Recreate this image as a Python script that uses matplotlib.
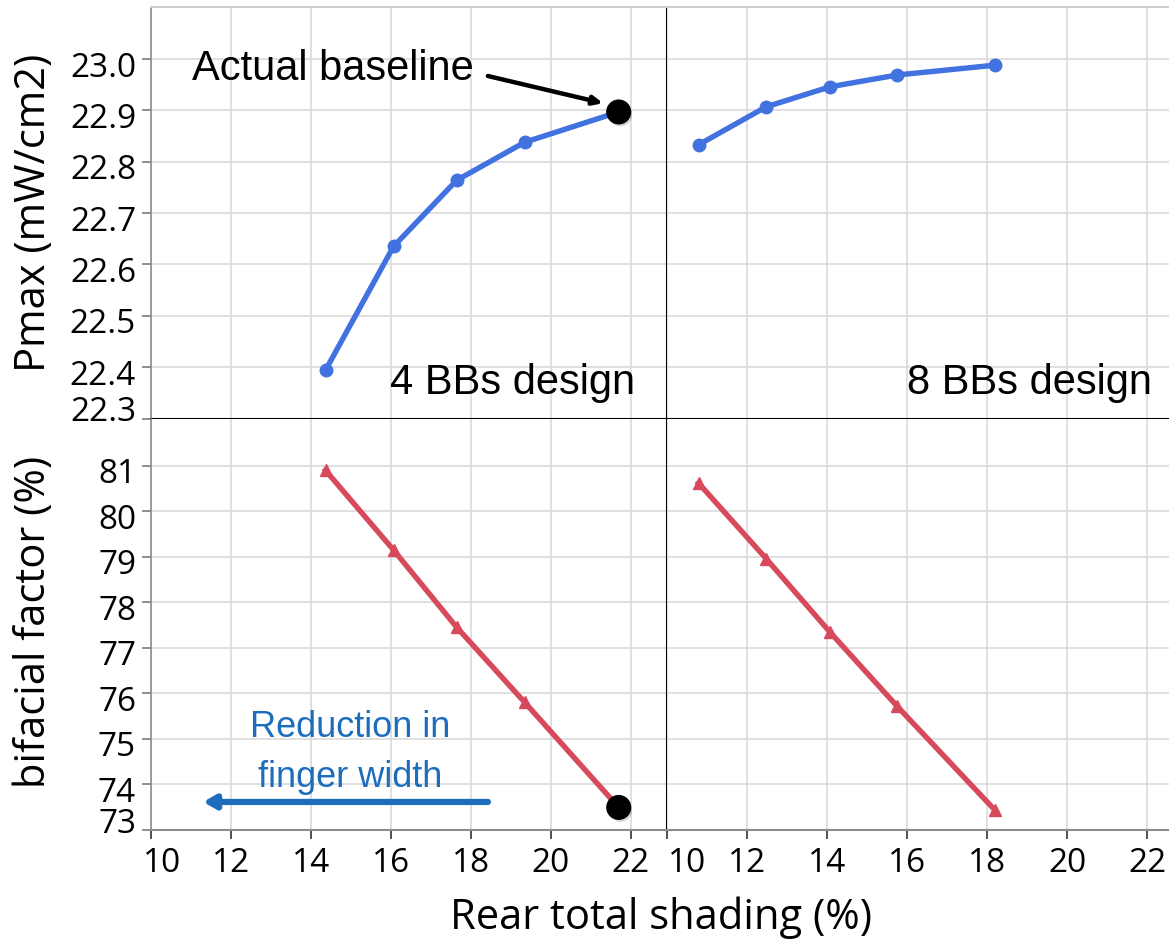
import matplotlib
matplotlib.use("Agg")
import matplotlib.pyplot as plt
import matplotlib.transforms as mtransforms
import matplotlib.patheffects as pe

# ---------------- data ----------------
x_4bb = [14.37, 16.07, 17.65, 19.35, 21.70]
pmax_4bb = [22.394, 22.635, 22.764, 22.838, 22.897]
bifacial_4bb = [80.90, 79.15, 77.45, 75.80, 73.49]

x_8bb = [10.78, 12.47, 14.07, 15.75, 18.18]
pmax_8bb = [22.833, 22.907, 22.946, 22.969, 22.988]
bifacial_8bb = [80.62, 78.96, 77.34, 75.71, 73.44]

x_ticks = [10, 12, 14, 16, 18, 20, 22]
pmax_ticks = [22.3, 22.4, 22.5, 22.6, 22.7, 22.8, 22.9, 23.0]
bif_ticks = [73, 74, 75, 76, 77, 78, 79, 80, 81]

panel_labels = ["4 BBs design", "8 BBs design"]
ylabel_top = "Pmax (mW/cm2)"
ylabel_bottom = "bifacial factor (%)"
xlabel = "Rear total shading (%)"

# ---------------- styling ----------------
W, H = 1169, 945
DPI = 100
fig = plt.figure(figsize=(W / DPI, H / DPI), dpi=DPI)
fig.patch.set_facecolor("white")

TICK_FONT = "Open Sans"
ANN_FONT = "Liberation Sans"
BLUE = "#4271e0"
RED = "#d64a5c"
GRID = "#dadada"
ARROW_BLUE = "#1d6dbd"


def px_axes(x0, y0, x1, y1):
    """pixel box (top-left origin) -> figure axes"""
    return fig.add_axes([x0 / W, (H - y1) / H, (x1 - x0) / W, (y1 - y0) / H])


xl0, xmid, xr1 = 150.7, 667.3, 1169.0
yt0, ymid, yb1 = 8.3, 419.5, 830.7

ax_tl = px_axes(xl0, yt0, xmid, ymid)
ax_tr = px_axes(xmid, yt0, xr1, ymid)
ax_bl = px_axes(xl0, ymid, xmid, yb1)
ax_br = px_axes(xmid, ymid, xr1, yb1)

xlim_left = (10, 10 + (xmid - xl0) / 40.0)
xlim_right = (10, 10 + (xr1 - xmid) / 40.0)
ylim_top = (22.3, 23.1008)
ylim_bot = (73.0, 82.04)

for ax, xlim, ylim, yt in [(ax_tl, xlim_left, ylim_top, pmax_ticks),
                           (ax_tr, xlim_right, ylim_top, pmax_ticks),
                           (ax_bl, xlim_left, ylim_bot, bif_ticks),
                           (ax_br, xlim_right, ylim_bot, bif_ticks)]:
    ax.set_xlim(*xlim)
    ax.set_ylim(*ylim)
    ax.set_xticks(x_ticks)
    ax.set_yticks(yt)
    ax.grid(True, color=GRID, linewidth=1.2, zorder=0)
    ax.set_axisbelow(True)
    ax.set_facecolor("white")
    for s in ax.spines.values():
        s.set_visible(False)
    ax.tick_params(axis="both", which="both", labelsize=24,
                   length=6.5, width=1.2, color="#7a7a7a")

# top panels: no x tick labels
for ax in (ax_tl, ax_tr):
    ax.tick_params(axis="x", bottom=False, labelbottom=False)
# right panels: no y ticks
for ax in (ax_tr, ax_br):
    ax.tick_params(axis="y", left=False, labelleft=False)

# y tick label formatting
ax_tl.set_yticklabels([f"{v:.1f}" for v in pmax_ticks], fontfamily=TICK_FONT)
ax_bl.set_yticklabels([str(v) for v in bif_ticks], fontfamily=TICK_FONT)
for ax in (ax_bl, ax_br):
    ax.set_xticklabels([str(v) for v in x_ticks], fontfamily=TICK_FONT)
    ax.tick_params(axis="x", pad=5, color="#303030")
for ax in (ax_tl, ax_bl):
    ax.tick_params(axis="y", pad=4)

# shift edge labels like the reference
def shift_label(lbl, dx=0, dy=0):
    lbl.set_transform(lbl.get_transform() +
                      mtransforms.ScaledTranslation(dx / 72, dy / 72, fig.dpi_scale_trans))

shift_label(ax_tl.get_yticklabels()[0], dy=8)
shift_label(ax_bl.get_yticklabels()[0], dy=7)
for lbl in ax_tl.get_yticklabels()[1:] + ax_bl.get_yticklabels()[1:]:
    shift_label(lbl, dy=-3)
shift_label(ax_bl.get_xticklabels()[0], dx=8)
shift_label(ax_br.get_xticklabels()[0], dx=14)

# spines
for ax in (ax_tl, ax_tr):
    ax.spines["top"].set_visible(True)
    ax.spines["top"].set_color("#cfcfcf")
    ax.spines["top"].set_linewidth(1.5)
for ax in (ax_tl, ax_bl):
    ax.spines["left"].set_visible(True)
    ax.spines["left"].set_color("#8c8c8c")
    ax.spines["left"].set_linewidth(1.2)
for ax in (ax_bl, ax_br):
    ax.spines["bottom"].set_visible(True)
    ax.spines["bottom"].set_color("#8c8c8c")
    ax.spines["bottom"].set_linewidth(1.5)
# dividers (black)
for ax, side in [(ax_tl, "bottom"), (ax_tr, "bottom"), (ax_tl, "right"), (ax_bl, "right")]:
    ax.spines[side].set_visible(True)
    ax.spines[side].set_color("black")
    ax.spines[side].set_linewidth(1.5)

# ---------------- data series ----------------
ax_tl.plot(x_4bb, pmax_4bb, color=BLUE, lw=3.9, marker="o", ms=9, zorder=3, clip_on=False)
ax_tr.plot(x_8bb, pmax_8bb, color=BLUE, lw=3.9, marker="o", ms=9, zorder=3, clip_on=False)
ax_bl.plot(x_4bb, bifacial_4bb, color=RED, lw=3.9, marker="^", ms=9, zorder=3, clip_on=False)
ax_br.plot(x_8bb, bifacial_8bb, color=RED, lw=3.9, marker="^", ms=9, zorder=3, clip_on=False)

# actual baseline markers (last point of 4BB design)
shadow = [pe.SimplePatchShadow(offset=(1.2, -1.8), alpha=0.18, shadow_rgbFace="black"), pe.Normal()]
ax_tl.plot([x_4bb[-1]], [pmax_4bb[-1]], marker="o", ms=17, color="black", ls="none",
           zorder=5, clip_on=False, path_effects=shadow)
ax_bl.plot([x_4bb[-1]], [bifacial_4bb[-1]], marker="o", ms=17, color="black", ls="none",
           zorder=5, clip_on=False, path_effects=shadow)

# ---------------- annotations ----------------
ax_tl.text(11.03, 22.982, "Actual baseline", fontsize=30, family=ANN_FONT,
           color="black", va="center", ha="left", zorder=6)
ax_tl.annotate("", xy=(21.31, 22.914), xytext=(18.43, 22.967),
               arrowprops=dict(arrowstyle="-|>,head_length=0.55,head_width=0.25",
                               color="black", lw=3.2, shrinkA=0, shrinkB=0))

ax_tl.text(22.1, 22.372, panel_labels[0], fontsize=30, family=ANN_FONT,
           ha="right", va="center", color="black", zorder=6)
ax_tr.text(22.12, 22.372, panel_labels[1], fontsize=30, family=ANN_FONT,
           ha="right", va="center", color="black", zorder=6)

ax_bl.text(14.98, 75.26, "Reduction in", fontsize=26, family=ANN_FONT,
           ha="center", va="center", color=ARROW_BLUE, zorder=6)
ax_bl.text(14.98, 74.18, "finger width", fontsize=26, family=ANN_FONT,
           ha="center", va="center", color=ARROW_BLUE, zorder=6)
ax_bl.annotate("", xy=(11.31, 73.61), xytext=(18.43, 73.61),
               arrowprops=dict(arrowstyle="-|>,head_length=0.7,head_width=0.4",
                               color=ARROW_BLUE, lw=4.5, shrinkA=0, shrinkB=0),
               zorder=6)

# ---------------- axis titles ----------------
fig.text(34 / W, 1 - 213 / H, ylabel_top, rotation=90, fontsize=30,
         family=TICK_FONT, ha="center", va="center")
fig.text(34 / W, 1 - 622 / H, ylabel_bottom, rotation=90, fontsize=30,
         family=TICK_FONT, ha="center", va="center")
fig.text(661 / W, 1 - 918 / H, xlabel, fontsize=30, family=TICK_FONT,
         ha="center", va="center")

fig.savefig("out.png", dpi=DPI, facecolor="white")
